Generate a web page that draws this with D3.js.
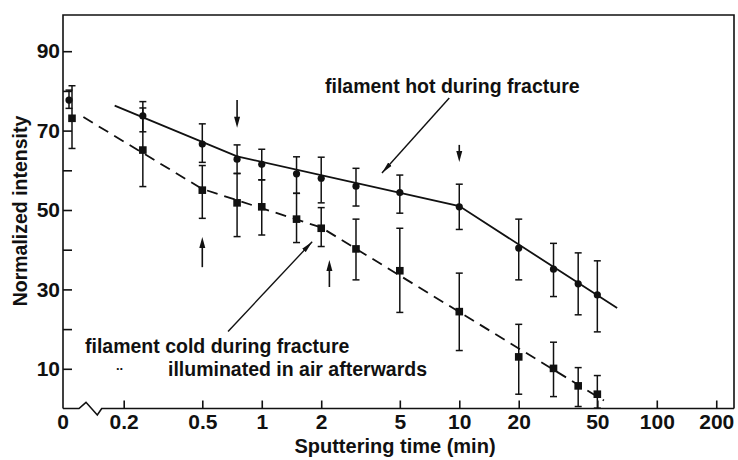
<!DOCTYPE html>
<html>
<head>
<meta charset="utf-8">
<script src="https://cdn.jsdelivr.net/npm/d3@7"></script>
<style>
  html, body { margin: 0; padding: 0; background: #fff; }
  svg { display: block; }
  text { font-family: "Liberation Sans", Arial, Helvetica, sans-serif; font-weight: bold; fill: #111; }
</style>
</head>
<body>
<svg id="chart" width="738" height="460"></svg>
<script>
// Sputtering time (min) of each measurement
const times = [0, 0.25, 0.5, 0.75, 1, 1.5, 2, 3, 5, 10, 20, 30, 40, 50];

// Filament hot during fracture: mean and error-bar limits
const hotMean = [77.7, 73.7, 66.6, 62.8, 61.5, 59.1, 58.0, 56.0, 54.4, 50.8, 40.4, 35.1, 31.4, 28.6];
const hotHigh = [80.2, 77.3, 71.7, 66.4, 65.3, 63.4, 63.3, 60.5, 58.8, 56.5, 47.7, 41.6, 39.2, 37.2];
const hotLow  = [75.6, 69.7, 62.0, 59.2, 57.6, 54.2, 51.8, 51.0, 49.2, 45.1, 32.4, 28.2, 23.6, 19.3];

// Filament cold during fracture, illuminated in air afterwards
const coldMean = [73.1, 65.1, 55.0, 51.8, 50.8, 47.7, 45.4, 40.2, 34.7, 24.4, 13.0, 10.1, 5.7, 3.6];
const coldHigh = [81.3, 75.7, 61.2, 59.2, 57.6, 54.2, 50.6, 47.7, 45.4, 34.1, 21.2, 16.7, 10.3, 8.3];
const coldLow  = [65.5, 55.9, 47.9, 43.3, 43.7, 41.8, 40.8, 32.4, 24.2, 14.6, 3.6, 3.0, 0.5, 0.1];

// Guide lines drawn through each series
const hotFitT  = [0.18, 0.75, 10, 63];
const hotFitV  = [76.3, 63.5, 51.0, 25.3];
const coldFitT = [0.125, 0.5, 2, 54];
const coldFitV = [73.4, 55.3, 45.6, 2.0];

// Axis ticks
const xTicks = [0.2, 0.5, 1, 2, 5, 10, 20, 50, 100, 200];
const yMajor = [10, 30, 50, 70, 90];
const yMinor = [20, 40, 60, 80];

// Marked times (arrows): [time, from value, to value]
const downArrows = [[0.75, 77.7, 70.7], [10, 66.4, 62.1]];
const upArrows   = [[0.5, 35.6, 43.2], [2.2, 30.6, 37.4]];

// Label pointers: [t0, v0, t1, v1]
const pointers = [[8.9, 78.2, 4.06, 59.3], [0.675, 19.4, 1.8, 42.0]];

const svg = d3.select("#chart");
const plotLeft = 63, plotRight = 734, plotTop = 15, plotBottom = 408.5;

const x = d3.scaleLog().domain([0.2, 246]).range([123.7, plotRight]);
const y = d3.scaleLinear().domain([0, 100]).range([plotBottom, 11.5]);
const zeroX = plotLeft;          // position of t = 0 on the broken axis
const nudge = { hot: 6, cold: 9 };
const xt = (t, s) => t === 0 ? zeroX + nudge[s] : x(t);

const ink = "#111";

// Frame (top, right, left) and broken bottom axis
svg.append("path")
  .attr("d", `M${plotLeft},${plotBottom} V${plotTop} H${plotRight} V${plotBottom}`)
  .attr("fill", "none").attr("stroke", ink).attr("stroke-width", 1.6);
svg.append("path")
  .attr("d", `M${plotLeft},${plotBottom} H79 L86,${plotBottom - 6.2} L97.3,${plotBottom + 6.5} L101.7,${plotBottom} H${plotRight}`)
  .attr("fill", "none").attr("stroke", ink).attr("stroke-width", 1.6).attr("stroke-linejoin", "miter");

// Y axis: labelled and unlabelled ticks pointing inward
const yAxis = d3.axisLeft(y).tickValues(yMajor).tickSize(-9).tickPadding(3).tickFormat(d3.format("d"));
const gy = svg.append("g").attr("transform", `translate(${plotLeft},0)`).call(yAxis);
gy.select(".domain").remove();
gy.selectAll("line").attr("stroke", ink).attr("stroke-width", 1.6);
gy.selectAll("text").style("font-size", "21px").attr("fill", ink);
const gyMinor = svg.append("g").attr("transform", `translate(${plotLeft},0)`)
  .call(d3.axisLeft(y).tickValues(yMinor).tickSize(-9).tickFormat(""));
gyMinor.select(".domain").remove();
gyMinor.selectAll("line").attr("stroke", ink).attr("stroke-width", 1.6);

// X axis (log scale)
const xAxis = d3.axisBottom(x).tickValues(xTicks).tickSize(-8).tickPadding(6)
  .tickFormat(d => String(d));
const gx = svg.append("g").attr("transform", `translate(0,${plotBottom})`).call(xAxis);
gx.select(".domain").remove();
gx.selectAll("line").attr("stroke", ink).attr("stroke-width", 1.6);
gx.selectAll("text").style("font-size", "21px").attr("fill", ink);
svg.append("text").attr("x", zeroX).attr("y", plotBottom + 6).attr("dy", "0.71em")
  .attr("text-anchor", "middle").style("font-size", "21px").text("0");

// Axis titles
svg.append("text").attr("x", 395).attr("y", 453).attr("text-anchor", "middle")
  .style("font-size", "20px").text("Sputtering time (min)");
svg.append("text").attr("transform", "translate(27,211) rotate(-90)").attr("text-anchor", "middle")
  .style("font-size", "19.5px").text("Normalized intensity");

// Guide lines
const line = d3.line().x(d => x(d[0])).y(d => y(d[1]));
svg.append("path").datum(hotFitT.map((t, i) => [t, hotFitV[i]]))
  .attr("d", line).attr("fill", "none").attr("stroke", ink).attr("stroke-width", 1.8);
svg.append("path").datum(coldFitT.map((t, i) => [t, coldFitV[i]]))
  .attr("d", line).attr("fill", "none").attr("stroke", ink).attr("stroke-width", 1.8)
  .attr("stroke-dasharray", "11,7");

// Error bars with caps
function errorBars(series, lo, hi) {
  const g = svg.append("g").attr("stroke", ink).attr("stroke-width", 1.5);
  times.forEach((t, i) => {
    const cx = xt(t, series);
    g.append("line").attr("x1", cx).attr("x2", cx).attr("y1", y(lo[i])).attr("y2", y(hi[i]));
    [lo[i], hi[i]].forEach(v => {
      g.append("line").attr("x1", cx - 3.5).attr("x2", cx + 3.5).attr("y1", y(v)).attr("y2", y(v));
    });
  });
}
errorBars("hot", hotLow, hotHigh);
errorBars("cold", coldLow, coldHigh);

// Markers: circles for hot, squares for cold
svg.append("g").selectAll("circle").data(times).join("circle")
  .attr("cx", (t) => xt(t, "hot")).attr("cy", (t, i) => y(hotMean[i]))
  .attr("r", 3.6).attr("fill", ink);
svg.append("g").selectAll("rect").data(times).join("rect")
  .attr("x", (t) => xt(t, "cold") - 3.8).attr("y", (t, i) => y(coldMean[i]) - 3.8)
  .attr("width", 7.6).attr("height", 7.6).attr("fill", ink);

// Vertical arrows marking times
function vArrow(t, v0, v1) {
  const cx = x(t), y0 = y(v0), y1 = y(v1);
  const dir = y1 > y0 ? 1 : -1;
  svg.append("line").attr("x1", cx).attr("x2", cx).attr("y1", y0).attr("y2", y1 - dir * 8)
    .attr("stroke", ink).attr("stroke-width", 1.6);
  svg.append("path")
    .attr("d", `M${cx},${y1} L${cx - 3},${y1 - dir * 11} L${cx + 3},${y1 - dir * 11} Z`)
    .attr("fill", ink);
}
downArrows.forEach(a => vArrow(...a));
upArrows.forEach(a => vArrow(...a));

// Pointers from labels to curves
svg.append("defs").append("marker")
  .attr("id", "head").attr("viewBox", "0 0 12 6").attr("refX", 12).attr("refY", 3)
  .attr("markerWidth", 12).attr("markerHeight", 6).attr("markerUnits", "userSpaceOnUse")
  .attr("orient", "auto")
  .append("path").attr("d", "M0,0.6 L12,3 L0,5.4 Z").attr("fill", ink);
pointers.forEach(([t0, v0, t1, v1]) => {
  svg.append("line").attr("x1", x(t0)).attr("y1", y(v0)).attr("x2", x(t1)).attr("y2", y(v1))
    .attr("stroke", ink).attr("stroke-width", 1.4).attr("marker-end", "url(#head)");
});

// Series labels
svg.append("text").attr("x", 325).attr("y", 93).style("font-size", "19.5px")
  .text("filament hot during fracture");
svg.append("text").attr("x", 85).attr("y", 353).style("font-size", "19.5px")
  .text("filament cold during fracture");
svg.append("text").attr("x", 116).attr("y", 370).style("font-size", "13px").text("..");
svg.append("text").attr("x", 168).attr("y", 376).style("font-size", "19.5px")
  .text("illuminated in air afterwards");
</script>
</body>
</html>
